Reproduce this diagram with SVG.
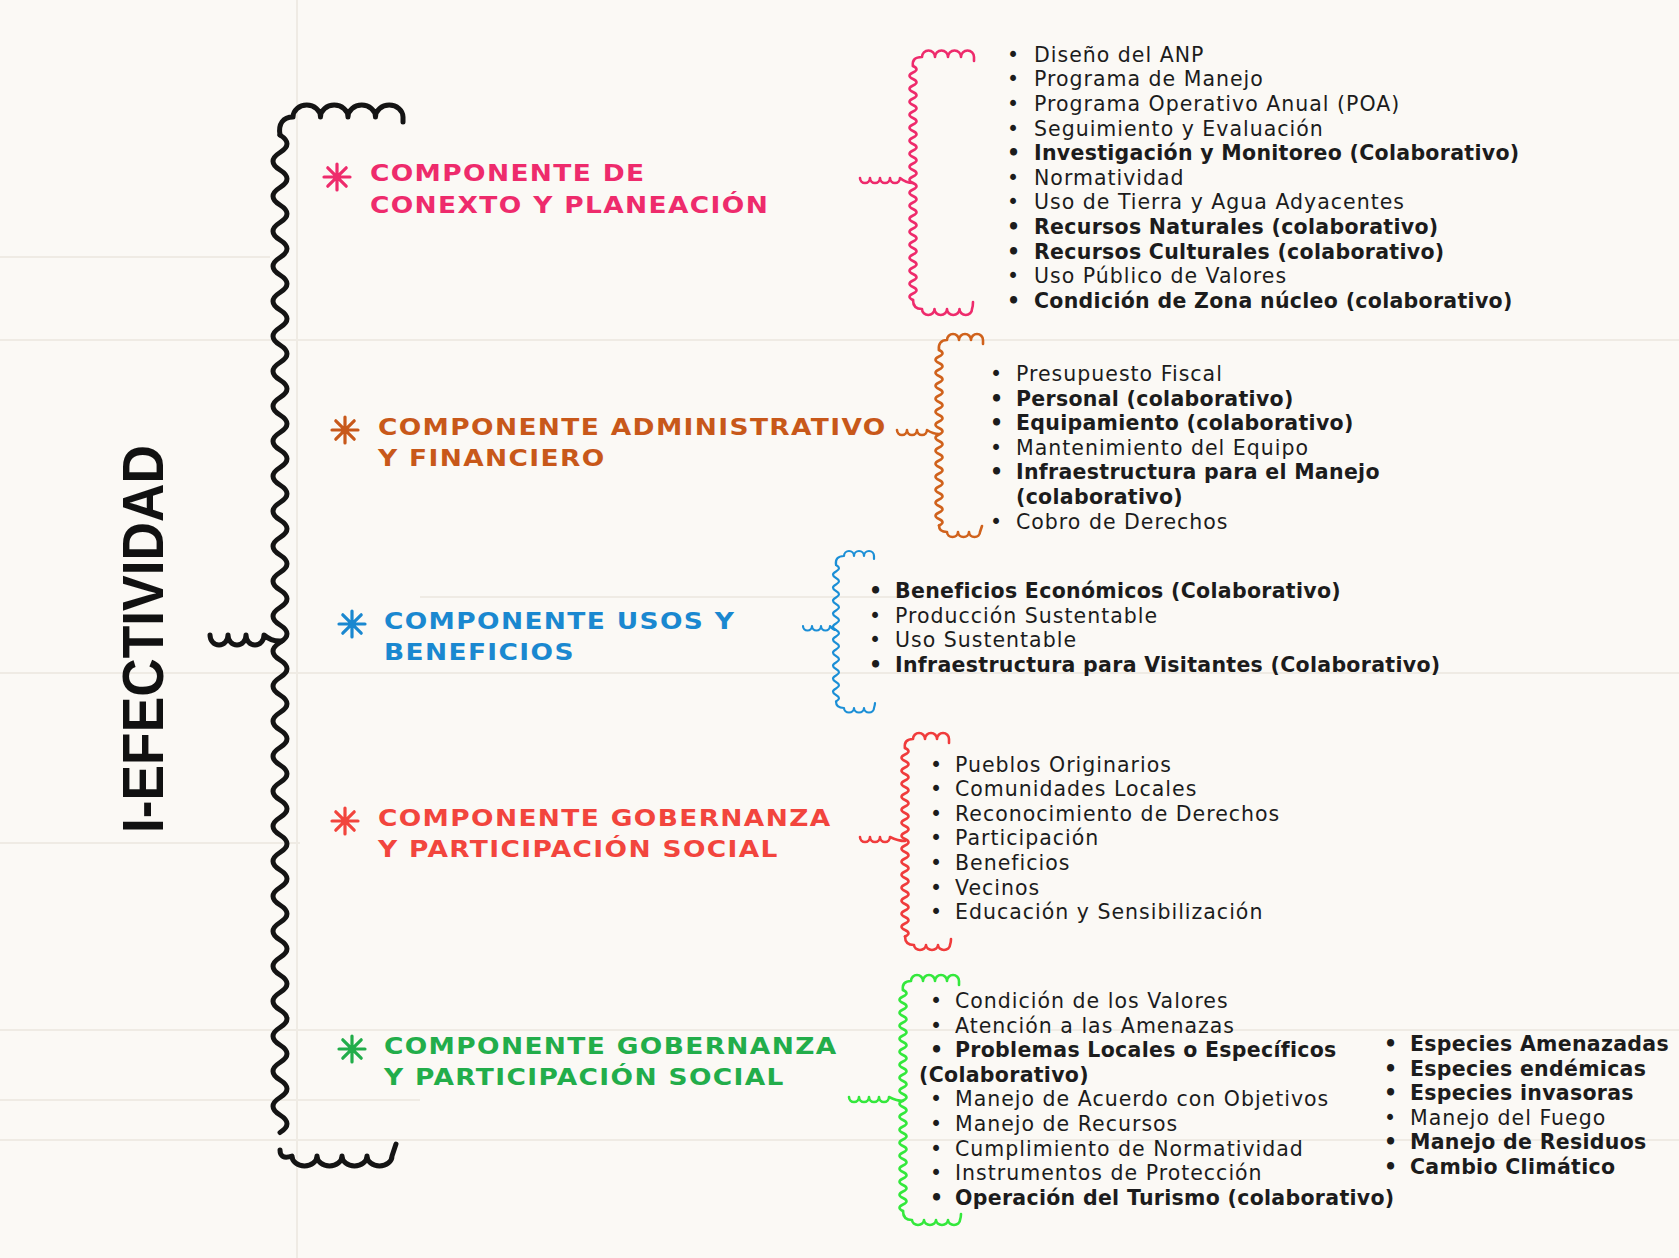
<svg xmlns="http://www.w3.org/2000/svg" width="1679" height="1258" viewBox="0 0 1679 1258">
<style>
.bg{fill:#fbf9f5}
.paper{stroke:#efebe4;stroke-width:2;fill:none}
.br{fill:none;stroke-linecap:round;stroke-linejoin:round}
.h{font-family:"DejaVu Sans","Liberation Sans",sans-serif;font-weight:bold;font-size:23px;letter-spacing:1.2px}
.li{font-family:"DejaVu Sans","Liberation Sans",sans-serif;font-size:20.5px;fill:#1c1c1c;letter-spacing:1px}
.b{font-weight:bold;letter-spacing:0.3px}
.title{font-family:"Liberation Sans",Arial,sans-serif;font-weight:bold;font-size:58px;fill:#111}
</style>
<defs>
<path id="ast" d="M0 -13V13M-13 0H13M-9.2 -9.2L9.2 9.2M-9.2 9.2L9.2 -9.2" stroke-width="3.2" stroke-linecap="round" fill="none"/>
</defs>
<rect class="bg" x="0" y="0" width="1679" height="1258"/>
<g id="paper">
<path class="paper" d="M0 257H270M0 340H1679M420 597H900M0 673H1679M0 843H300M0 1030H1679M0 1100H420M0 1140H1679M297 0V1258"/>
</g>

<g id="connectors">
<!-- black main brace -->
<g class="br" stroke="#141414" stroke-width="5">
<path d="M280 135C278 124 283 117 293 117a13.75 12 0 0 1 27.5 0a13.75 12 0 0 1 27.5 0a13.75 12 0 0 1 27.5 0a13.75 12 0 0 1 27.5 0l0 5"/>
<path d="M280 135q14 8.75 0 17.5t0 17.5t0 17.5t0 17.5t0 17.5t0 17.5t0 17.5t0 17.5t0 17.5t0 17.5t0 17.5t0 17.5t0 17.5t0 17.5t0 17.5t0 17.5t0 17.5t0 17.5t0 17.5t0 17.5t0 17.5t0 17.5t0 17.5t0 17.5t0 17.5t0 17.5t0 17.5t0 17.5t0 17.5t0 17.5t0 17.5t0 17.5t0 17.5t0 17.5t0 17.5t0 17.5t0 17.5t0 17.5t0 17.5t0 17.5t0 17.5t0 17.5t0 17.5t0 17.5t0 17.5t0 17.5t0 17.5t0 17.5t0 17.5t0 17.5t0 17.5t0 17.5t0 17.5t0 17.5t0 17.5t0 17.5t0 17.5"/>
<path d="M280 1150q0 10 12 6a12.5 10 0 0 0 25 0a12.5 10 0 0 0 25 0a12.5 10 0 0 0 25 0a12.5 10 0 0 0 25 0q2 -6 4 -12"/>
<path d="M210 635a9 10 0 0 0 18 0a9 10 0 0 0 18 0a9 10 0 0 0 18 0q8 7 18 6"/>
</g>
<!-- pink brace -->
<g class="br" stroke="#ee2b6c" stroke-width="2.6">
<path d="M913 66C912 60 915 57 922 57a6.5 6.5 0 0 1 13 0a6.5 6.5 0 0 1 13 0a6.5 6.5 0 0 1 13 0a6.5 6.5 0 0 1 13 0l0 4"/>
<path d="M913 66q7 3.25 0 6.5t0 6.5t0 6.5t0 6.5t0 6.5t0 6.5t0 6.5t0 6.5t0 6.5t0 6.5t0 6.5t0 6.5t0 6.5t0 6.5t0 6.5t0 6.5t0 6.5t0 6.5t0 6.5t0 6.5t0 6.5t0 6.5t0 6.5t0 6.5t0 6.5t0 6.5t0 6.5t0 6.5t0 6.5t0 6.5t0 6.5t0 6.5t0 6.5t0 6.5t0 6.5t0 6.5"/>
<path d="M913 300C913 306 916 309 922 309a6.25 6 0 0 0 12.5 0a6.25 6 0 0 0 12.5 0a6.25 6 0 0 0 12.5 0a6.25 6 0 0 0 12.5 0q1 -3 1 -7"/>
<path d="M860 178a5 5 0 0 0 10 0a5 5 0 0 0 10 0a5 5 0 0 0 10 0a5 5 0 0 0 10 0q6 5 13 5"/>
</g>
<!-- orange brace -->
<g class="br" stroke="#d0621c" stroke-width="2.6">
<path d="M939 350C938 344 941 340 947 340a6 6 0 0 1 12 0a6 6 0 0 1 12 0a6 6 0 0 1 12 0l0 4"/>
<path d="M939 350q7 3.25 0 6.5t0 6.5t0 6.5t0 6.5t0 6.5t0 6.5t0 6.5t0 6.5t0 6.5t0 6.5t0 6.5t0 6.5t0 6.5t0 6.5t0 6.5t0 6.5t0 6.5t0 6.5t0 6.5t0 6.5t0 6.5t0 6.5t0 6.5t0 6.5t0 6.5t0 6.5t0 6.5"/>
<path d="M939 525.5C939 530 942 532 947 532a5.5 5 0 0 0 11 0a5.5 5 0 0 0 11 0a5.5 5 0 0 0 11 0q1 -3 2 -6"/>
<path d="M897 430a5 5 0 0 0 10 0a5 5 0 0 0 10 0a5 5 0 0 0 10 0q6 4 12 4"/>
</g>
<!-- blue brace -->
<g class="br" stroke="#1b8fd6" stroke-width="2.2">
<path d="M836 565C835 559 838 556 844 556a5 5 0 0 1 10 0a5 5 0 0 1 10 0a5 5 0 0 1 10 0l0 3"/>
<path d="M836 565q6 3.25 0 6.5t0 6.5t0 6.5t0 6.5t0 6.5t0 6.5t0 6.5t0 6.5t0 6.5t0 6.5t0 6.5t0 6.5t0 6.5t0 6.5t0 6.5t0 6.5t0 6.5t0 6.5t0 6.5t0 6.5t0 6.5"/>
<path d="M836 701.5C836 706 839 708 844 708a5 4.5 0 0 0 10 0a5 4.5 0 0 0 10 0a5 4.5 0 0 0 10 0q1 -3 1 -5"/>
<path d="M803 626a4.5 4.5 0 0 0 9 0a4.5 4.5 0 0 0 9 0a4.5 4.5 0 0 0 9 0q3 4 6 4"/>
</g>
<!-- red brace -->
<g class="br" stroke="#f03c3c" stroke-width="2.6">
<path d="M905 748C904 742 907 739 913 739a6 6 0 0 1 12 0a6 6 0 0 1 12 0a6 6 0 0 1 12 0l0 4"/>
<path d="M905 748q7 3.25 0 6.5t0 6.5t0 6.5t0 6.5t0 6.5t0 6.5t0 6.5t0 6.5t0 6.5t0 6.5t0 6.5t0 6.5t0 6.5t0 6.5t0 6.5t0 6.5t0 6.5t0 6.5t0 6.5t0 6.5t0 6.5t0 6.5t0 6.5t0 6.5t0 6.5t0 6.5t0 6.5t0 6.5t0 6.5"/>
<path d="M905 936.5C905 942 908 945 914 945a6 5 0 0 0 12 0a6 5 0 0 0 12 0a6 5 0 0 0 12 0q1 -3 1 -6"/>
<path d="M860 837a5 5 0 0 0 10 0a5 5 0 0 0 10 0a5 5 0 0 0 10 0q8 4 15 4"/>
</g>
<!-- green brace -->
<g class="br" stroke="#34e83c" stroke-width="2.6">
<path d="M903 990C902 984 905 981 911 981a6 6 0 0 1 12 0a6 6 0 0 1 12 0a6 6 0 0 1 12 0a6 6 0 0 1 12 0l0 4"/>
<path d="M903 990q7 3.25 0 6.5t0 6.5t0 6.5t0 6.5t0 6.5t0 6.5t0 6.5t0 6.5t0 6.5t0 6.5t0 6.5t0 6.5t0 6.5t0 6.5t0 6.5t0 6.5t0 6.5t0 6.5t0 6.5t0 6.5t0 6.5t0 6.5t0 6.5t0 6.5t0 6.5t0 6.5t0 6.5t0 6.5t0 6.5t0 6.5t0 6.5t0 6.5t0 6.5t0 6.5"/>
<path d="M903 1211C903 1217 906 1220 912 1220a6 5 0 0 0 12 0a6 5 0 0 0 12 0a6 5 0 0 0 12 0a6 5 0 0 0 12 0q1 -3 1 -6"/>
<path d="M849 1097a5 5 0 0 0 10 0a5 5 0 0 0 10 0a5 5 0 0 0 10 0a5 5 0 0 0 10 0q8 4 14 4"/>
</g>
</g>

<g id="title">
<text class="title" transform="translate(163 639) rotate(-90)" text-anchor="middle" textLength="388" lengthAdjust="spacingAndGlyphs">I-EFECTIVIDAD</text>
</g>

<g id="comp-contexto">
<use href="#ast" x="337" y="177" stroke="#ee2b6c"/>
<text class="h" fill="#ee2b6c" transform="translate(370 0) scale(1.15 1)"><tspan x="0" y="181.5">COMPONENTE DE</tspan><tspan x="0" y="213">CONEXTO Y PLANEACIÓN</tspan></text>
</g>
<g id="list-contexto" class="li">
<text y="61.7"><tspan x="1007">•</tspan><tspan x="1034">Diseño del ANP</tspan></text>
<text y="86.3"><tspan x="1007">•</tspan><tspan x="1034">Programa de Manejo</tspan></text>
<text y="110.9"><tspan x="1007">•</tspan><tspan x="1034">Programa Operativo Anual (POA)</tspan></text>
<text y="135.5"><tspan x="1007">•</tspan><tspan x="1034">Seguimiento y Evaluación</tspan></text>
<text class="b" y="160.1"><tspan x="1007">•</tspan><tspan x="1034">Investigación y Monitoreo (Colaborativo)</tspan></text>
<text y="184.7"><tspan x="1007">•</tspan><tspan x="1034">Normatividad</tspan></text>
<text y="209.3"><tspan x="1007">•</tspan><tspan x="1034">Uso de Tierra y Agua Adyacentes</tspan></text>
<text class="b" y="233.9"><tspan x="1007">•</tspan><tspan x="1034">Recursos Naturales (colaborativo)</tspan></text>
<text class="b" y="258.5"><tspan x="1007">•</tspan><tspan x="1034">Recursos Culturales (colaborativo)</tspan></text>
<text y="283.1"><tspan x="1007">•</tspan><tspan x="1034">Uso Público de Valores</tspan></text>
<text class="b" y="307.7"><tspan x="1007">•</tspan><tspan x="1034">Condición de Zona núcleo (colaborativo)</tspan></text>
</g>

<g id="comp-admin">
<use href="#ast" x="345" y="430" stroke="#c8581a"/>
<text class="h" fill="#c8581a" transform="translate(378 0) scale(1.15 1)"><tspan x="0" y="435">COMPONENTE ADMINISTRATIVO</tspan><tspan x="0" y="466">Y FINANCIERO</tspan></text>
</g>
<g id="list-admin" class="li">
<text y="381"><tspan x="990">•</tspan><tspan x="1016">Presupuesto Fiscal</tspan></text>
<text class="b" y="405.6"><tspan x="990">•</tspan><tspan x="1016">Personal (colaborativo)</tspan></text>
<text class="b" y="430.2"><tspan x="990">•</tspan><tspan x="1016">Equipamiento (colaborativo)</tspan></text>
<text y="454.8"><tspan x="990">•</tspan><tspan x="1016">Mantenimiento del Equipo</tspan></text>
<text class="b" y="479.4"><tspan x="990">•</tspan><tspan x="1016">Infraestructura para el Manejo</tspan></text>
<text class="b" x="1016" y="504">(colaborativo)</text>
<text y="528.6"><tspan x="990">•</tspan><tspan x="1016">Cobro de Derechos</tspan></text>
</g>

<g id="comp-usos">
<use href="#ast" x="352" y="624" stroke="#1a88d0"/>
<text class="h" fill="#1a88d0" transform="translate(384 0) scale(1.15 1)"><tspan x="0" y="629">COMPONENTE USOS Y</tspan><tspan x="0" y="660">BENEFICIOS</tspan></text>
</g>
<g id="list-usos" class="li">
<text class="b" y="598"><tspan x="869">•</tspan><tspan x="895">Beneficios Económicos (Colaborativo)</tspan></text>
<text y="622.6"><tspan x="869">•</tspan><tspan x="895">Producción Sustentable</tspan></text>
<text y="647.2"><tspan x="869">•</tspan><tspan x="895">Uso Sustentable</tspan></text>
<text class="b" y="671.8"><tspan x="869">•</tspan><tspan x="895">Infraestructura para Visitantes (Colaborativo)</tspan></text>
</g>

<g id="comp-gobernanza">
<use href="#ast" x="345" y="821" stroke="#f2453d"/>
<text class="h" fill="#f2453d" transform="translate(378 0) scale(1.15 1)"><tspan x="0" y="826">COMPONENTE GOBERNANZA</tspan><tspan x="0" y="857">Y PARTICIPACIÓN SOCIAL</tspan></text>
</g>
<g id="list-gobernanza" class="li">
<text y="771.5"><tspan x="930">•</tspan><tspan x="955">Pueblos Originarios</tspan></text>
<text y="796.1"><tspan x="930">•</tspan><tspan x="955">Comunidades Locales</tspan></text>
<text y="820.7"><tspan x="930">•</tspan><tspan x="955">Reconocimiento de Derechos</tspan></text>
<text y="845.3"><tspan x="930">•</tspan><tspan x="955">Participación</tspan></text>
<text y="869.9"><tspan x="930">•</tspan><tspan x="955">Beneficios</tspan></text>
<text y="894.5"><tspan x="930">•</tspan><tspan x="955">Vecinos</tspan></text>
<text y="919.1"><tspan x="930">•</tspan><tspan x="955">Educación y Sensibilización</tspan></text>
</g>

<g id="comp-gobernanza-2">
<use href="#ast" x="352" y="1049" stroke="#22ad4a"/>
<text class="h" fill="#22ad4a" transform="translate(384 0) scale(1.15 1)"><tspan x="0" y="1054">COMPONENTE GOBERNANZA</tspan><tspan x="0" y="1085">Y PARTICIPACIÓN SOCIAL</tspan></text>
</g>
<g id="list-gobernanza-2" class="li">
<text y="1008"><tspan x="930">•</tspan><tspan x="955">Condición de los Valores</tspan></text>
<text y="1032.6"><tspan x="930">•</tspan><tspan x="955">Atención a las Amenazas</tspan></text>
<text class="b" y="1057.2"><tspan x="930">•</tspan><tspan x="955">Problemas Locales o Específicos</tspan></text>
<text class="b" x="919" y="1081.8">(Colaborativo)</text>
<text y="1106.4"><tspan x="930">•</tspan><tspan x="955">Manejo de Acuerdo con Objetivos</tspan></text>
<text y="1131"><tspan x="930">•</tspan><tspan x="955">Manejo de Recursos</tspan></text>
<text y="1155.6"><tspan x="930">•</tspan><tspan x="955">Cumplimiento de Normatividad</tspan></text>
<text y="1180.2"><tspan x="930">•</tspan><tspan x="955">Instrumentos de Protección</tspan></text>
<text class="b" y="1204.8"><tspan x="930">•</tspan><tspan x="955">Operación del Turismo (colaborativo)</tspan></text>
</g>
<g id="list-especies" class="li">
<text class="b" y="1051"><tspan x="1384">•</tspan><tspan x="1410">Especies Amenazadas</tspan></text>
<text class="b" y="1075.6"><tspan x="1384">•</tspan><tspan x="1410">Especies endémicas</tspan></text>
<text class="b" y="1100.2"><tspan x="1384">•</tspan><tspan x="1410">Especies invasoras</tspan></text>
<text y="1124.8"><tspan x="1384">•</tspan><tspan x="1410">Manejo del Fuego</tspan></text>
<text class="b" y="1149.4"><tspan x="1384">•</tspan><tspan x="1410">Manejo de Residuos</tspan></text>
<text class="b" y="1174"><tspan x="1384">•</tspan><tspan x="1410">Cambio Climático</tspan></text>
</g>
</svg>
